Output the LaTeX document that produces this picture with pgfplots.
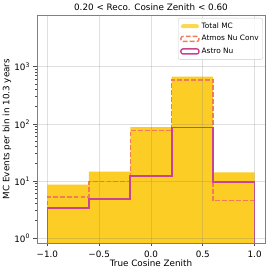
\documentclass[border=0pt]{standalone}
\usepackage{pgfplots}
\pgfplotsset{compat=1.18}
\usepackage{fontspec}
\setmainfont{DejaVu Sans}
\definecolor{cTot}{HTML}{FCCD25}
\definecolor{cAtm}{HTML}{F27C5A}
\definecolor{cAst}{HTML}{C94393}
\definecolor{spine}{HTML}{808080}
\newcommand\fnt{\fontsize{8.8}{10}\selectfont}
\begin{document}
\begin{tikzpicture}
\path[use as bounding box] (-37pt,-31pt) rectangle (237pt,243pt);
\begin{axis}[
  at={(0,0)}, anchor=south west,
  scale only axis, width=228pt, height=228pt,
  ymode=log, xmin=-1.1, xmax=1.1, ymin=0.817, ymax=8100,
  axis on top,
  axis line style={spine, line width=0.9pt},
  tick style={black!70, line width=0.7pt},
  tick align=outside, xtick pos=left, ytick pos=left,
  major tick length=3.5pt, minor tick length=2pt,
  grid=major,
  major grid style={gray, opacity=0.25, line width=0.7pt},
  xtick={-1,-0.5,0,0.5,1},
  xticklabels={−1.0,−0.5,0.0,0.5,1.0},
  ytick={1,10,100,1000},
  yticklabels={10\textsuperscript{0},10\textsuperscript{1},10\textsuperscript{2},10\textsuperscript{3}},
  tick label style={font=\fnt},
  xticklabel style={yshift=-0.5pt},
  xlabel={True Cosine Zenith},
  ylabel={MC Events per bin in 10.3 years},
  label style={font=\fnt},
  xlabel style={at={(axis description cs:0.5,-0.0877)}, anchor=center},
  ylabel style={at={(axis description cs:-0.1316,0.5)}, anchor=center},
  title={0.20 < Reco. Cosine Zenith < 0.60},
  every axis title/.style={font=\fnt, at={(axis description cs:0.5,1)}, anchor=center, yshift=7.5pt},
  legend cell align=left,
  legend style={at={(axis description cs:0.991,0.987)}, anchor=north east,
    draw=black!20, rounded corners=2pt, fill=white, fill opacity=0.8, text opacity=1,
    font=\fontsize{7.4}{8.5}\selectfont, inner xsep=2pt, inner ysep=2.5pt, row sep=1.6pt},
]
\addplot[fill=cTot, draw=none, const plot mark left,
  legend image code/.code={\fill[cTot] (0pt,-2pt) rectangle (18pt,2pt);}]
  coordinates {(-1,0.1) (-1,8.6) (-0.6,14.5) (-0.2,88) (0.2,676) (0.6,14.2) (1,14.2) (1,0.1)};
\addlegendentry{Total MC}
\addplot[draw=cAtm, line width=1.5pt, dash pattern=on 4.8pt off 2.1pt, const plot mark left,
  legend image code/.code={\draw[cAtm, line width=1.4pt, dash pattern=on 4.8pt off 2.1pt] (0pt,-2.5pt) rectangle (18pt,2.5pt);}]
  coordinates {(-1,0.1) (-1,5.2) (-0.6,9.7) (-0.2,76) (0.2,590) (0.6,4.5) (1,4.5) (1,0.1)};
\addlegendentry{Atmos Nu Conv}
\addplot[draw=cAst, line width=1.7pt, const plot mark left,
  legend image code/.code={\draw[cAst, line width=1.4pt] (0pt,-2.5pt) rectangle (18pt,2.5pt);}]
  coordinates {(-1,0.1) (-1,3.4) (-0.6,4.8) (-0.2,12.2) (0.2,86) (0.6,9.7) (1,9.7) (1,0.1)};
\addlegendentry{Astro Nu}
\end{axis}
\end{tikzpicture}
\end{document}
